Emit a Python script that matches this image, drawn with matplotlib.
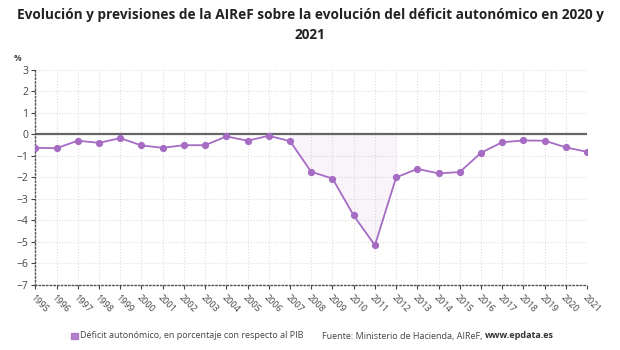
import matplotlib
matplotlib.use("Agg")
import matplotlib.pyplot as plt
import numpy as np

years = list(range(1995, 2022))
deficit = [-0.62, -0.64, -0.29, -0.39, -0.17, -0.51, -0.62, -0.50, -0.50, -0.09,
           -0.29, -0.06, -0.31, -1.74, -2.05, -3.77, -5.16, -2.00, -1.60, -1.81,
           -1.75, -0.85, -0.36, -0.28, -0.29, -0.60, -0.81]
yticks = list(range(-7, 4))
shade_start, shade_end = 2007, 2012

purple = "#a66cc4"
plt.rcParams['font.family'] = ['Open Sans', 'DejaVu Sans']

fig = plt.figure(figsize=(6.2, 3.5), dpi=100)
ax = fig.add_axes([0.057, 0.186, 0.890, 0.614])

x = np.array(years)
y = np.array(deficit)
mask = (x >= shade_start) & (x <= shade_end)
ax.fill_between(x[mask], y[mask], 0, color=purple, alpha=0.07, linewidth=0)
ax.axhline(0, color="#666666", linewidth=1.6, zorder=2)
ax.plot(x, y, color=purple, linewidth=1.3, marker="o", markersize=4.2, zorder=3)

ax.set_xlim(1995, 2021)
ax.set_ylim(-7, 3)
ax.set_yticks(yticks)
ax.set_xticks(years)
ax.set_xticklabels([str(v) for v in years], rotation=-45, ha="left",
                   rotation_mode="anchor", fontsize=6.5, color="#444444")
ax.tick_params(axis="y", labelsize=7.5, colors="#444444", length=3, pad=2)
ax.tick_params(axis="x", length=3, pad=3, colors="#444444")
ax.grid(True, color="#dddddd", linestyle=":", linewidth=0.8)
ax.set_axisbelow(True)
for s in ["top", "right"]:
    ax.spines[s].set_visible(False)
for s in ["left", "bottom"]:
    ax.spines[s].set_color("#555555")
    ax.spines[s].set_linestyle(":")
    ax.spines[s].set_linewidth(1.0)

fig.text(0.5, 0.978, "Evolución y previsiones de la AIReF sobre la evolución del déficit autonómico en 2020 y\n2021",
         ha="center", va="top", fontsize=9.85, fontweight="bold", color="#222222", linespacing=1.6)
fig.text(0.022, 0.825, "%", fontsize=6, fontweight="bold", color="#444444")

ly = 0.040
fig.patches.append(plt.Rectangle((0.114, ly - 0.009), 0.011, 0.019, transform=fig.transFigure,
                                 color=purple, alpha=0.85))
fig.text(0.129, ly, "Déficit autonómico, en porcentaje con respecto al PIB",
         fontsize=6.5, color="#444444", va="center")
t = fig.text(0.519, ly, "Fuente: Ministerio de Hacienda, AIReF, ", fontsize=6.5, color="#444444", va="center")
fig.canvas.draw()
bb = t.get_window_extent().transformed(fig.transFigure.inverted())
fig.text(bb.x1, ly, "www.epdata.es", fontsize=6.5, color="#333333", va="center", fontweight="bold")

fig.savefig("out.png", dpi=100)
